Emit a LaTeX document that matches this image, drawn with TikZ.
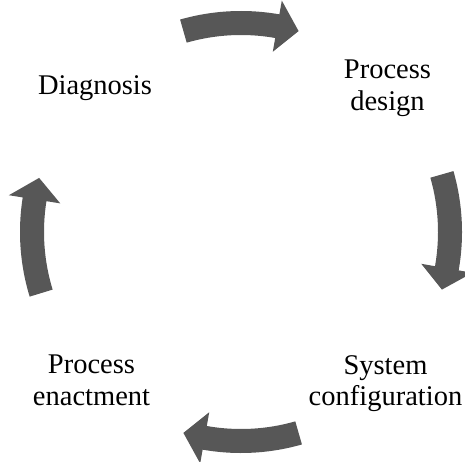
\documentclass[tikz,border=0pt]{standalone}
\usepackage{fontspec}
\setmainfont{Liberation Serif}
\usepackage{tikz}
\usetikzlibrary{calc}
\definecolor{arrowgray}{HTML}{575757}

\begin{document}
\begin{tikzpicture}[x=1pt, y=1pt,
        stage/.style={align=center, inner sep=0pt, anchor=north, font=\fontsize{28.5}{31.5}\selectfont}]
        \useasboundingbox (0,0) rectangle (465,461);
        \coordinate (O) at (241,229);
        
        % four curved arrows, clockwise
        \foreach \s in {106,16,-74,197} {
            \pgfmathsetmacro{\h}{\s-26}
            \pgfmathsetmacro{\t}{\s-32}
            \fill[arrowgray] ($(O)+(\s:221)$) arc[start angle=\s, end angle=\h, radius=221]
                -- ($(O)+(\h:235)$) -- ($(O)+(\t:209)$) -- ($(O)+(\h:183)$) -- ($(O)+(\h:197)$)
                arc[start angle=\h, end angle=\s, radius=197] -- cycle;
        }
        
        \node[stage] (diag) at (95,386) {Diagnosis};
        \node[stage] (design) at (387.5,401) {Process\\design};
        \node[stage] (config) at (385.5,106) {System\\configuration};
        \node[stage] (enact) at (91.5,106) {Process\\enactment};
        
    \end{tikzpicture}
\end{document}
